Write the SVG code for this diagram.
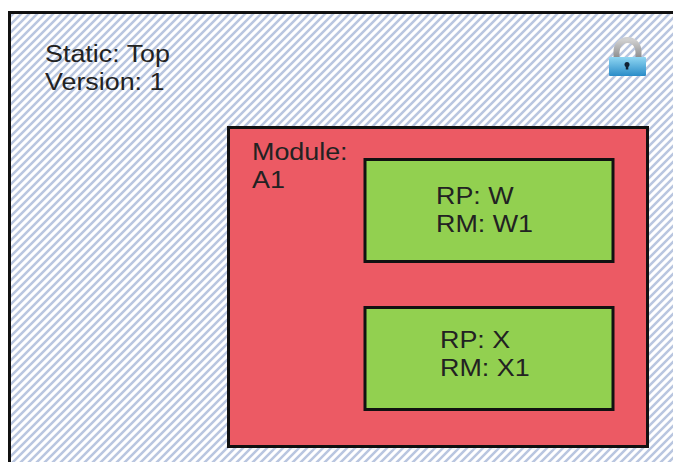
<svg xmlns="http://www.w3.org/2000/svg" width="673" height="462" viewBox="0 0 673 462">
<style>
.t{font-family:"Liberation Sans",Arial,sans-serif;font-size:24px;fill:#222}
.b{stroke:#111;stroke-width:3}
.g{fill:#92d050}
</style>
<defs>
<pattern id="h" width="8" height="8" patternUnits="userSpaceOnUse" patternTransform="translate(3 0)">
<rect width="8" height="8" fill="#fff"/>
<path d="M-2 2L2 -2M-2 10L10 -2M6 10L10 6" stroke="#b9c6e0" stroke-width="2.500"/>
</pattern>
<linearGradient id="lb" x1="0" y1="0" x2="0" y2="1"><stop offset="0" stop-color="#8fd6f2"/><stop offset="1" stop-color="#2a8cc8"/></linearGradient>
<linearGradient id="ls" x1="0" y1="0" x2="0" y2="1"><stop offset="0" stop-color="#d0d0d0"/><stop offset="1" stop-color="#8c8c8c"/></linearGradient>
</defs>
<g id="static">
<rect x="9.500" y="12.500" width="680" height="470" fill="url(#h)" class="b"/>
<text class="t" transform="translate(45 62) scale(1.120 1)">Static: Top</text>
<text class="t" transform="translate(45 90) scale(1.120 1)">Version: 1</text>
</g>
<g id="lock">
<path d="M616.500 58V52C616.500 36 638.500 36 638.500 52V58" fill="none" stroke="url(#ls)" stroke-width="6"/>
<rect x="609" y="57" width="37" height="19" rx="1" fill="url(#lb)"/>
<circle cx="627" cy="64.500" r="2.500" fill="#123"/>
<rect x="625.800" y="64.500" width="2.500" height="5" fill="#123"/>
</g>
<g id="module">
<rect x="228.500" y="127.500" width="419" height="319" fill="#ec5a64" class="b"/>
<text class="t" transform="translate(252 160) scale(1.120 1)">Module:</text>
<text class="t" transform="translate(252 188) scale(1.120 1)">A1</text>
</g>
<g id="rpw">
<rect x="365" y="159.500" width="248" height="102" class="g b"/>
<text class="t" transform="translate(436 204) scale(1.120 1)">RP: W</text>
<text class="t" transform="translate(436 232) scale(1.120 1)">RM: W1</text>
</g>
<g id="rpx">
<rect x="365" y="307.500" width="248" height="102" class="g b"/>
<text class="t" transform="translate(440 348) scale(1.120 1)">RP: X</text>
<text class="t" transform="translate(440 376) scale(1.120 1)">RM: X1</text>
</g>
<g id="connectors"/>
</svg>
